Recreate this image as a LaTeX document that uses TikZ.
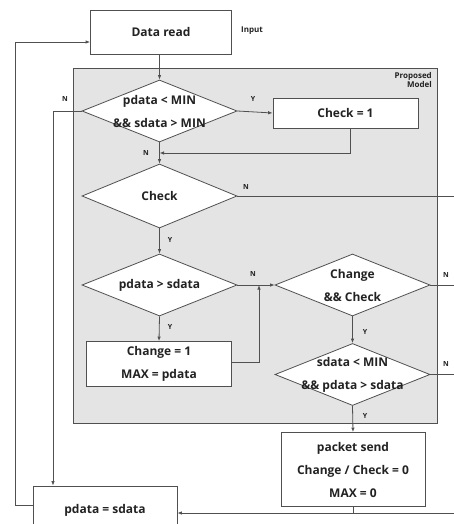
\documentclass[tikz,border=0pt]{standalone}
\usepackage{fontspec}
\setmainfont{Open Sans}
\usetikzlibrary{arrows.meta, shapes.geometric, positioning}
\definecolor{linegray}{HTML}{505050}
\definecolor{modelgray}{HTML}{E4E4E4}
\definecolor{inkgray}{HTML}{222222}
\tikzset{
  >={Latex[length=4.5pt,width=3.5pt]},
  flow/.style={draw=linegray, line width=0.8pt},
  procbox/.style={draw=linegray, line width=0.8pt, fill=white, inner sep=0pt,
    text=inkgray, font=\bfseries\fontsize{12}{23}\selectfont, align=center},
  decision/.style={diamond, draw=linegray, line width=0.8pt, fill=white,
    inner sep=0pt, minimum width=155pt, minimum height=62pt},
  dtext/.style={text=inkgray, font=\bfseries\fontsize{12}{23}\selectfont,
    align=center, inner sep=0pt},
  yn/.style={text=inkgray, font=\bfseries\fontsize{7}{8}\selectfont, inner sep=0pt},
  note/.style={text=inkgray, font=\bfseries\fontsize{8}{9.5}\selectfont, inner sep=0pt}
}

\begin{document}
\begin{tikzpicture}[x=1pt, y=-1pt]
\useasboundingbox (0,0) rectangle (454,524);

% proposed model area
\node[draw=linegray, line width=0.8pt, fill=modelgray, minimum width=364pt,
  minimum height=355pt] (model) at (255,245.5) {};
\node[note, align=right, anchor=north east] (modelname) at (432,72) {Proposed\\Model};

% boxes
\node[procbox, minimum width=141pt, minimum height=44pt] (read) at (161,32) {Data read};
\node[note, anchor=west] (input) at (241,31) {Input};
\node[procbox, minimum width=145pt, minimum height=30pt] (chk1) at (345.5,113) {Check = 1};
\node[procbox, minimum width=145pt, minimum height=45pt] (chg) at (159,364) {Change = 1\\MAX = pdata};
\node[procbox, minimum width=144pt, minimum height=74pt] (send) at (353,469.5) {packet send\\Change / Check = 0\\MAX = 0};
\node[procbox, minimum width=144pt, minimum height=48pt] (copy) at (105,510) {pdata = sdata};

% decisions
\node[decision] (d1) at (159.5,111) {};
\node[dtext] (d1t) at (d1) {pdata < MIN\\\&\& sdata > MIN};
\node[decision, minimum height=64pt] (d2) at (159.5,196) {};
\node[dtext] (d2t) at (d2) {Check};
\node[decision] (d3) at (159.5,285) {};
\node[dtext] (d3t) at (d3) {pdata > sdata};
\node[decision] (d4) at (352.5,285) {};
\node[dtext] (d4t) at (d4) {Change\\\&\& Check};
\node[decision] (d5) at (352.5,374.5) {};
\node[dtext] (d5t) at (d5) {sdata < MIN\\\&\& pdata > sdata};

% helper points
\coordinate (join1) at (159.5,153);
\coordinate (ndrop) at (53,111);
\coordinate (merge) at (259,285);
\coordinate (redge) at (454,0);
\coordinate (rbot) at (454,513);
\coordinate (loop) at (15,42);

% connectors
\draw[flow,->] (read.south -| d1.north) -- (d1.north);
\draw[flow,->] (d1.east) -- (chk1.west);
\draw[flow,->] ([xshift=5pt]chk1.south) |- (join1);
\draw[flow,->] (d1.south) -- (d2.north);
\draw[flow,->] (d1.west) -- (ndrop) -- (ndrop |- copy.north);
\draw[flow] (d2.east) -- (d2.east -| redge);
\draw[flow,->] (d2.south) -- (d3.north);
\draw[flow,->] (d3.east) -- (d4.west);
\draw[flow,->] (d3.south) -- (chg.north);
\draw[flow,->] ([yshift=2pt]chg.east) -| (merge);
\draw[flow] (d4.east) -- (d4.east -| redge);
\draw[flow,->] (d4.south) -- (d5.north);
\draw[flow] (d5.east) -- (d5.east -| redge);
\draw[flow,->] (d5.south) -- (send.north);
\draw[flow] (send.south) -- (send.south |- rbot);
\draw[flow,->] (rbot) -- (rbot -| copy.east);
\draw[flow,->] ([yshift=5pt]copy.west) -| (loop) -- (loop -| read.west);

% Y / N marks
\node[yn] (n1) at (65,99) {N};
\node[yn] (y1) at (253,99) {Y};
\node[yn] (n2) at (146,153) {N};
\node[yn] (n3) at (246,187) {N};
\node[yn] (y2) at (170,240) {Y};
\node[yn] (n4) at (253,274) {N};
\node[yn] (y3) at (170,327) {Y};
\node[yn] (n5) at (446,275) {N};
\node[yn] (y4) at (365,332) {Y};
\node[yn] (n6) at (446,364) {N};
\node[yn] (y5) at (365,416) {Y};
\end{tikzpicture}
\end{document}
